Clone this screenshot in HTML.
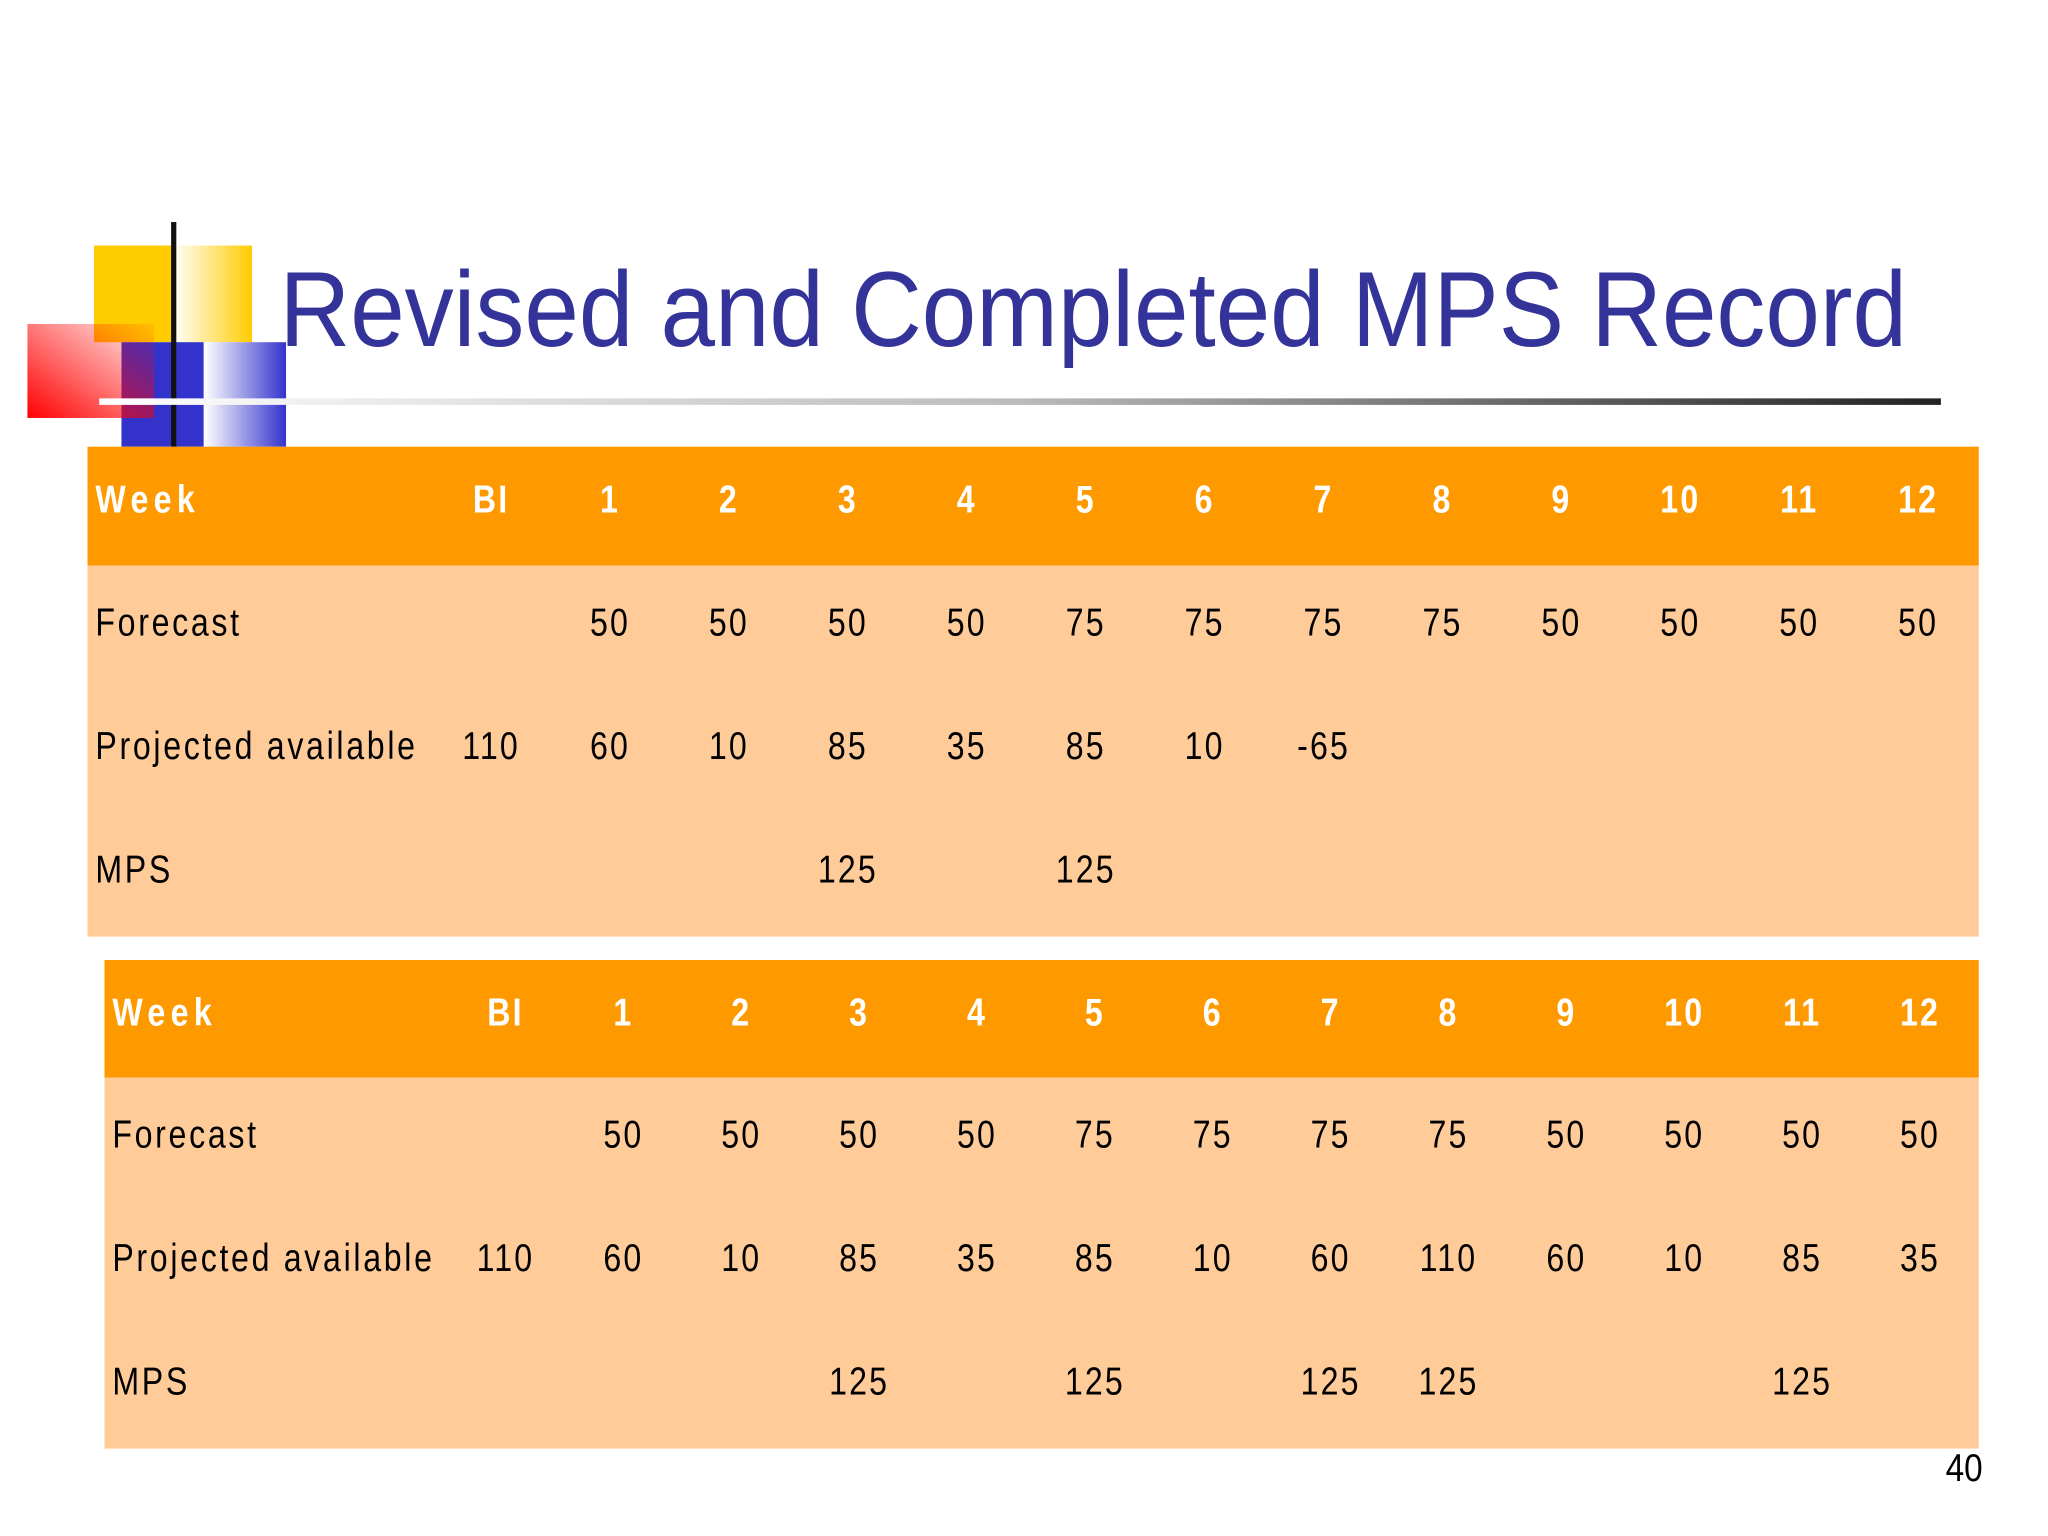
<!DOCTYPE html>
<html><head><meta charset="utf-8">
<style>
html,body{margin:0;padding:0;background:#fff;}
#slide{width:2048px;height:1536px;position:relative;overflow:hidden;}
svg{display:block}
text{font-family:"Liberation Sans",Arial,sans-serif;}
</style></head>
<body>
<div id="slide">
<svg id="svg" width="2048" height="1536" viewBox="0 0 1568 1176">
<defs>
<linearGradient id="gy" x1="0" x2="1" y1="0" y2="0"><stop offset="0" stop-color="#fff"/><stop offset="1" stop-color="#ffcc00"/></linearGradient>
<linearGradient id="gb" x1="0" x2="1" y1="0" y2="0"><stop offset="0" stop-color="#fff"/><stop offset="1" stop-color="#3333cc"/></linearGradient>
<linearGradient id="gr" x1="0" x2="1" y1="1" y2="0"><stop offset="0" stop-color="#ff0000"/><stop offset="1" stop-color="#ff0000" stop-opacity="0.05"/></linearGradient>
<linearGradient id="gl" x1="0" x2="1" y1="0" y2="0"><stop offset="0" stop-color="#ffffff"/><stop offset="0.5" stop-color="#bbbbbb"/><stop offset="1" stop-color="#222222"/></linearGradient>
</defs>
<g>
<rect x="72" y="188" width="60" height="74" fill="#ffcc00"/>
<rect x="132" y="188" width="61" height="74" fill="url(#gy)"/>
<rect x="93" y="262" width="63" height="80" fill="#3333cc"/>
<rect x="156" y="262" width="63" height="80" fill="url(#gb)"/>
<rect x="21" y="248" width="97" height="72" fill="url(#gr)"/>
<rect x="131" y="170" width="4" height="172" fill="#111"/>
</g>
<rect x="76" y="305" width="1410" height="5" fill="url(#gl)"/>
<text x="214" y="265" font-size="82" fill="#333399" textLength="1246" lengthAdjust="spacingAndGlyphs" font-family="'DejaVu Sans',sans-serif">Revised and Completed MPS Record</text>
<text x="1518" y="1134" font-size="30" fill="#000" text-anchor="end" transform="translate(1518 0) scale(0.85 1) translate(-1518 0)">40</text>
<g id="tables"></g>
</svg>
</div>
<script>
const weeks = ["BI","1","2","3","4","5","6","7","8","9","10","11","12"];
const rowLabels = ["Forecast","Projected available","MPS"];
const t1Forecast = ["","50","50","50","50","75","75","75","75","50","50","50","50"];
const t1Projected = ["110","60","10","85","35","85","10","-65","","","","",""];
const t1Mps = ["","","","125","","125","","","","","","",""];
const t2Forecast = ["","50","50","50","50","75","75","75","75","50","50","50","50"];
const t2Projected = ["110","60","10","85","35","85","10","60","110","60","10","85","35"];
const t2Mps = ["","","","125","","125","","125","125","","","125",""];

const NS = "http://www.w3.org/2000/svg";
const g = document.getElementById('tables');
function mk(tag, attrs, parent){
  const e = document.createElementNS(NS, tag);
  for (const k in attrs) e.setAttribute(k, attrs[k]);
  parent.appendChild(e);
  return e;
}
function txt(parent, x, y, s, size, fill, bold, anchor, ls){
  const t = mk('text', {x:x, y:y, 'font-size':size, fill:fill, 'text-anchor':anchor,
    'dominant-baseline':'central', 'letter-spacing':ls,
    transform:'translate('+x+' 0) scale(0.82 1) translate('+(-x)+' 0)'}, parent);
  if (bold) t.setAttribute('font-weight','bold');
  t.textContent = s;
  return t;
}
function drawTable(name, left, right, top, headerH, rowH, labelX, colX0, colStep, rows){
  const tg = mk('g', {}, g);
  
  
  const hdr = mk('rect', {x:left, y:top, width:right-left, height:headerH, fill:'#ff9900'}, tg);
  
  
  const body = mk('rect', {x:left, y:top+headerH, width:right-left, height:rowH*3, fill:'#ffcc99'}, tg);
  
  
  const hy = top + headerH/2 - 5;
  const wl = txt(tg, labelX, hy, 'Week', 30, '#fff', true, 'start', 5);
  
  
  weeks.forEach((w,i)=>{
    const c = txt(tg, colX0 + i*colStep, hy, w, 30, '#fff', true, 'middle', 2);
    
    
  });
  rows.forEach((vals, r)=>{
    const ry = top + headerH + rowH*r + rowH/2 - 4;
    const l = txt(tg, labelX, ry, rowLabels[r], 30, '#000', false, 'start', 2.5);
    
    
    vals.forEach((v,i)=>{
      if (v === '') return;
      const c = txt(tg, colX0 + i*colStep, ry, v, 30, '#000', false, 'middle', 2);
      
      
    });
  });
}
drawTable('mps-table-initial', 67, 1515, 342, 91, 94.7, 73, 376, 91.05, [t1Forecast, t1Projected, t1Mps]);
drawTable('mps-table-completed', 80, 1515, 735, 90, 94.7, 86, 387, 90.25, [t2Forecast, t2Projected, t2Mps]);
</script>
</body></html>
